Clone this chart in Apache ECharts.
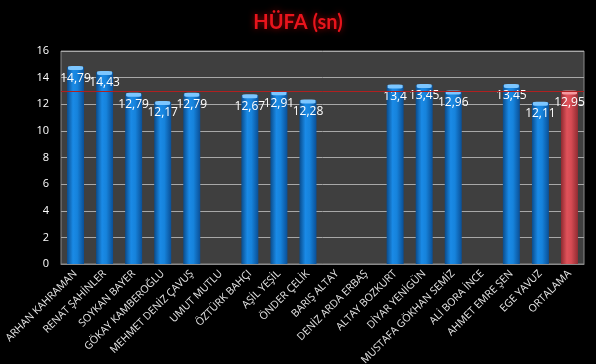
<!DOCTYPE html>
<html><head><meta charset="utf-8">
<script src="https://cdn.jsdelivr.net/npm/echarts@6/dist/echarts.min.js"></script>
<style>html,body{margin:0;padding:0;background:#000;}#c{width:596px;height:364px;}</style>
</head><body><div id="c"></div>
<script>
const categories = ["ARHAN KAHRAMAN","RENAT ŞAHİNLER","SOYKAN BAYER","GÖKAY KAMBEROĞLU","MEHMET DENİZ ÇAVUŞ","UMUT MUTLU","ÖZTÜRK BAHÇI","AŞİL YEŞİL","ÖNDER ÇELİK","BARIŞ ALTAY","DENİZ ARDA ERBAŞ","ALTAY BOZKURT","DİYAR YENİGÜN","MUSTAFA GÖKHAN SEMİZ","ALİ BORA İNCE","AHMET EMRE ŞEN","EGE YAVUZ","ORTALAMA"];
const values = [14.79,14.43,12.79,12.17,12.79,null,12.67,12.91,12.28,null,null,13.4,13.45,12.96,null,13.45,12.11,12.95];
const average = 12.95;
const yTicks = [0,2,4,6,8,10,12,14,16];

const blue = new echarts.graphic.LinearGradient(0,0,1,0,[
  {offset:0,color:'#0a4c8c'},{offset:0.35,color:'#1a8ae6'},{offset:0.6,color:'#1683dc'},{offset:1,color:'#0a4f96'}]);
const red = new echarts.graphic.LinearGradient(0,0,1,0,[
  {offset:0,color:'#8e2a30'},{offset:0.35,color:'#e0525a'},{offset:0.6,color:'#d64b53'},{offset:1,color:'#902c32'}]);
const last = categories.length - 1;

const chart = echarts.init(document.getElementById('c'));
chart.setOption({
  backgroundColor:'#000',
  animation:false,
  title:{text:'HÜFA (sn)',left:'center',top:8,
    textStyle:{color:'#e8141c',fontSize:20,fontWeight:'bold',fontFamily:'Lato',textShadowColor:'rgba(255,0,0,0.6)',textShadowBlur:6}},
  grid:{left:61,right:12,top:51,bottom:100,show:true,containLabel:false,outerBoundsMode:'none',
    backgroundColor:'#3f3f3f',borderColor:'#8a8a8a',borderWidth:1},
  xAxis:{type:'category',data:categories,
    axisLine:{lineStyle:{color:'#8a8a8a'}},axisTick:{show:false},
    axisLabel:{rotate:45,interval:0,color:'#e6e6e6',fontSize:10.5,fontFamily:'Open Sans',margin:8}},
  yAxis:{type:'value',min:yTicks[0],max:yTicks[yTicks.length-1],interval:2,
    axisLine:{show:false},axisTick:{show:false},
    axisLabel:{color:'#ffffff',fontSize:11,fontFamily:'Open Sans',margin:12},
    splitLine:{lineStyle:{color:'#a8a8a8',width:1}}},
  series:[
    {type:'bar',barWidth:17,z:2,
      data:values.map((v,i)=>({value:v,itemStyle:{color:i===last?red:blue}})),
      label:{show:true,position:'insideTop',distance:5,color:'#ffffff',fontSize:12,fontFamily:'Open Sans',
        formatter:p=>String(p.value).replace('.',',')},
      markLine:{silent:true,symbol:'none',label:{show:false},
        lineStyle:{color:'#b02020',width:1,type:'solid'},data:[{yAxis:average}]}},
    {type:'pictorialBar',symbol:'roundRect',symbolSize:[15,4],symbolPosition:'end',symbolOffset:[0,-1],z:3,
      data:values.map((v,i)=>({value:v,itemStyle:{color:i===last?'#f59aa0':'#7cc6ff'}})),
      label:{show:false}}
  ]
});
</script></body></html>
